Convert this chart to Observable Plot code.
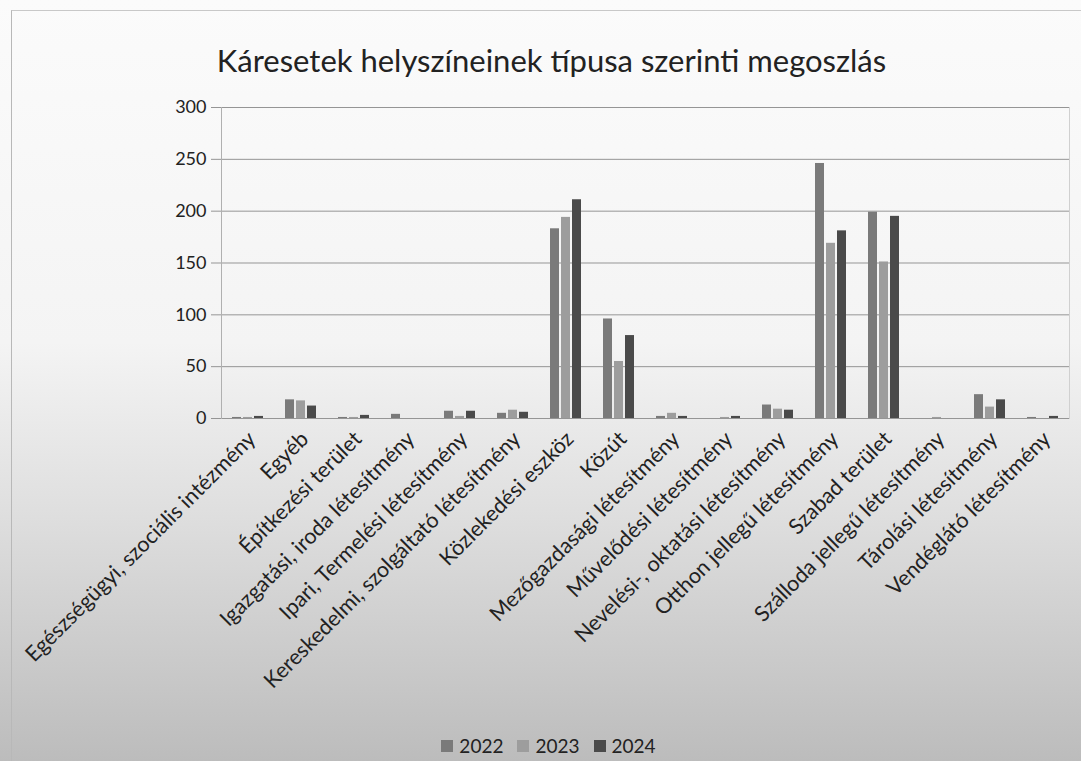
<!DOCTYPE html>
<html><head><meta charset="utf-8">
<script src="https://cdn.jsdelivr.net/npm/d3@7"></script>
<script src="https://cdn.jsdelivr.net/npm/@observablehq/plot@0.6"></script>
<style>
html,body{margin:0;padding:0;width:1081px;height:761px;overflow:hidden;}
body{background:linear-gradient(to bottom,#fbfbfb 0%,#f4f4f4 45%,#dedede 68%,#bcbcbc 100%);font-family:Lato,sans-serif;position:relative;color:#222;}
#frame{position:absolute;left:11px;top:10px;right:0;bottom:0;border-left:1px solid #b8b8b8;border-top:1px solid #c8c8c8;}
#title{position:absolute;left:15px;width:1073px;top:42px;text-align:center;font-size:31px;line-height:36px;color:#222;}
#chart{position:absolute;left:0;top:90px;}
#legend{position:absolute;left:12px;width:1073px;top:735px;display:flex;justify-content:center;align-items:center;font-size:19px;line-height:22px;}
.item{display:flex;align-items:center;margin:0 7px;}
.sw{width:12px;height:12px;margin-right:6px;}
</style>
</head><body>
<div id="frame"></div>
<div id="title"></div>
<div id="chart"></div>
<div id="legend"></div>
<script>
const titleText = "Káresetek helyszíneinek típusa szerinti megoszlás";
const categories = [
  "Egészségügyi, szociális intézmény",
  "Egyéb",
  "Építkezési terület",
  "Igazgatási, iroda létesítmény",
  "Ipari, Termelési létesítmény",
  "Kereskedelmi, szolgáltató létesítmény",
  "Közlekedési eszköz",
  "Közút",
  "Mezőgazdasági létesítmény",
  "Művelődési létesítmény",
  "Nevelési-, oktatási létesítmény",
  "Otthon jellegű létesítmény",
  "Szabad terület",
  "Szálloda jellegű létesítmény",
  "Tárolási létesítmény",
  "Vendéglátó létesítmény"
];
const years = ["2022", "2023", "2024"];
const values2022 = [1, 18, 1, 4, 7, 5, 183, 96, 2, 0, 13, 246, 199, 0, 23, 1];
const values2023 = [1, 17, 1, 0, 2, 8, 194, 55, 5, 1, 9, 169, 151, 1, 11, 0];
const values2024 = [2, 12, 3, 0, 7, 6, 211, 80, 2, 2, 8, 181, 195, 0, 18, 2];
const yTicks = [0, 50, 100, 150, 200, 250, 300];
const colors = ["#7a7a7a", "#9d9d9d", "#4a4a4a"];

const series = [values2022, values2023, values2024];
const data = categories.flatMap((c, i) => years.map((y, j) => ({cat: c, year: y, value: series[j][i]})));

document.getElementById("title").textContent = titleText;

const chart = Plot.plot({
  width: 1081, height: 640,
  marginLeft: 219, marginRight: 10, marginTop: 17, marginBottom: 312,
  style: {background: "transparent", fontFamily: "Lato, sans-serif", color: "#222"},
  fx: {domain: categories, padding: 0},
  x: {domain: years, paddingInner: 0.17, paddingOuter: 0.8, axis: null},
  y: {domain: [0, 300]},
  color: {domain: years, range: colors},
  marks: [
    Plot.gridY(yTicks, {stroke: "#959595", strokeOpacity: 1}),
    Plot.axisY(yTicks, {tickSize: 10, tickPadding: 5, fontSize: 18, stroke: "#959595", fill: "#222", label: null}),
    Plot.axisFx({anchor: "bottom", tickRotate: -45, tickSize: 0, tickPadding: 17, dx: 4, fontSize: 21.5, fill: "#222", label: null}),
    Plot.frame({anchor: "left", stroke: "#b0b0b0", fx: [categories[0]]}),
    Plot.frame({anchor: "right", stroke: "#d0d0d0", fx: [categories[categories.length - 1]]}),
    Plot.barY(data, {fx: "cat", x: "year", y: "value", fill: "year"})
  ]
});
document.getElementById("chart").appendChild(chart);

const legend = document.getElementById("legend");
years.forEach((y, j) => {
  const it = document.createElement("div"); it.className = "item";
  const sw = document.createElement("div"); sw.className = "sw"; sw.style.background = colors[j];
  const t = document.createElement("span"); t.textContent = y;
  it.appendChild(sw); it.appendChild(t); legend.appendChild(it);
});
</script>
</body></html>
